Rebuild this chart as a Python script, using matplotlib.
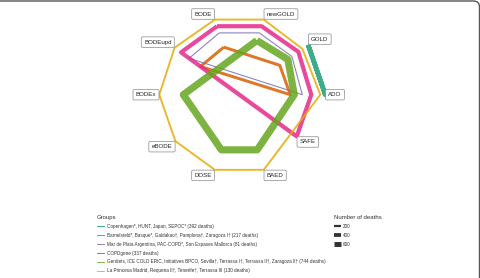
import numpy as np
import matplotlib
matplotlib.use('Agg')
import matplotlib.pyplot as plt
from matplotlib.lines import Line2D
from matplotlib.patches import FancyBboxPatch

plt.rcParams['font.family'] = ['Liberation Sans', 'DejaVu Sans']

# tools, clockwise starting just left of north
tools = ['BODE', 'newGOLD', 'GOLD', 'ADO', 'SAFE', 'BAED', 'DOSE', 'eBODE', 'BODEx', 'BODEupd']
nan = np.nan

groups = [
    'Copenhagen*, HUNT, Japan, SEPOC* (392 deaths)',
    'Barnelsteld*, Basque*, Galdakao†, Pamplona†, Zaragoza I† (217 deaths)',
    'Mar de Plata Argentina, PAC-COPD*, Son Espases Mallorca (81 deaths)',
    'COPDgene (337 deaths)',
    'Gerdiets, ICE COLD ERIC, Initiatives BPCO, Sevilla†, Terrassa I†, Terrassa II†, Zaragoza II† (744 deaths)',
    'La Princesa Madrid, Requena II†, Tenerife†, Terrassa III (130 deaths)',
]
deaths = [392, 217, 81, 337, 744, 130]

# scores per tool (same order as tools), NaN = not evaluated
copenhagen = [nan, nan, 0.85, 0.86, nan, nan, nan, nan, nan, nan]
barnelsteld = [0.50, nan, 0.50, 0.51, nan, nan, nan, nan, nan, 0.48]
mar_de_plata = [0.65, 0.65, 0.65, 0.63, nan, nan, nan, nan, nan, 0.62]
copdgene = [0.72, 0.72, 0.73, 0.72, 0.71, nan, nan, nan, nan, 0.72]
gerdiets = [nan, 0.57, 0.60, 0.55, nan, 0.58, 0.58, nan, 0.56, nan]
la_princesa = [0.79, 0.79, 0.78, 0.81, nan, 0.79, 0.79, 0.79, 0.80, 0.80]

series = [copenhagen, barnelsteld, mar_de_plata, copdgene, gerdiets, la_princesa]
colors = ['#1B9E77', '#D95F02', '#7570B3', '#E7298A', '#66A61E', '#E6AB02']

size_breaks = [200, 400, 600]


def death_lw(d):
    # line width (points) grows with sqrt of number of deaths
    px = 0.33 * (np.sqrt(d) - 9) + 1.1
    return px * 0.72


W, H = 481, 278
fig = plt.figure(figsize=(W / 100, H / 100), dpi=100)

cx, cy, R = 239.3, 94.7, 100.0
ax = fig.add_axes([(cx - R) / W, (H - cy - R) / H, 2 * R / W, 2 * R / H], projection='polar')
ax.set_theta_zero_location('N')
ax.set_theta_direction(-1)
ax.set_ylim(0, 1)
ax.grid(False)
ax.set_xticks([])
ax.set_yticks([])
ax.spines['polar'].set_visible(False)
ax.patch.set_alpha(0)

angles = np.deg2rad(np.arange(len(tools)) * 36.0 - 18.0)

for vals, col, d in zip(series, colors, deaths):
    vals = np.array(vals, dtype=float)
    ok = ~np.isnan(vals)
    th = list(angles[ok]) + [angles[ok][0]]
    rr = list(vals[ok]) + [vals[ok][0]]
    ax.plot(th, rr, color=col, lw=death_lw(d), alpha=0.85,
            solid_joinstyle='round', solid_capstyle='butt')

# axis labels sit at the largest score of each tool
top = np.nanmax(np.array(series, dtype=float), axis=0)
for a, name, r in zip(angles, tools, top):
    s, c = np.sin(a), np.cos(a)
    ha = 'left' if s > 0.1 else ('right' if s < -0.1 else 'center')
    va = 'bottom' if c > 0.1 else ('top' if c < -0.1 else 'center')
    dx = 2.2 * np.sign(s) if abs(s) > 0.1 else 0
    dy = 2.2 * np.sign(c) if abs(c) > 0.1 else 0
    ax.annotate(name, xy=(a, r), xytext=(dx, dy), textcoords='offset points',
                ha=ha, va=va, fontsize=4.4, color='#222222',
                bbox=dict(boxstyle='round,pad=0.45,rounding_size=0.2',
                          fc='white', ec='#8a8a8a', lw=0.5))

# groups legend
g_handles = [Line2D([], [], color=c, lw=0.6) for c in colors]
leg1 = fig.legend(g_handles, groups, loc='upper left',
                  bbox_to_anchor=(97 / W, 1 - 215 / H), frameon=False,
                  fontsize=3.3, title='Groups', title_fontsize=4.3,
                  handlelength=1.6, handletextpad=0.5, labelspacing=0.85,
                  borderpad=0, borderaxespad=0, alignment='left')
for t in leg1.get_texts():
    t.set_color('#333333')
leg1.get_title().set_color('#333333')

# size legend
s_handles = [Line2D([], [], color='#333333', lw=death_lw(b) * 0.8, solid_capstyle='butt')
             for b in size_breaks]
leg2 = fig.legend(s_handles, [str(b) for b in size_breaks], loc='upper left',
                  bbox_to_anchor=(334 / W, 1 - 215 / H), frameon=False,
                  fontsize=3.3, title='Number of deaths', title_fontsize=4.3,
                  handlelength=1.5, handletextpad=0.5, labelspacing=0.85,
                  borderpad=0, borderaxespad=0, alignment='left')
for t in leg2.get_texts():
    t.set_color('#333333')
leg2.get_title().set_color('#333333')

# panel frame, cropped on the left and bottom
frame = FancyBboxPatch((-0.1, -0.1), (479.5 / 100) + 0.1, (277 / 100) + 0.1,
                       boxstyle='round,pad=0,rounding_size=0.06',
                       transform=fig.dpi_scale_trans, fc='none', ec='#555555', lw=1.0)
fig.patches.append(frame)

fig.savefig('out.png', dpi=100)
